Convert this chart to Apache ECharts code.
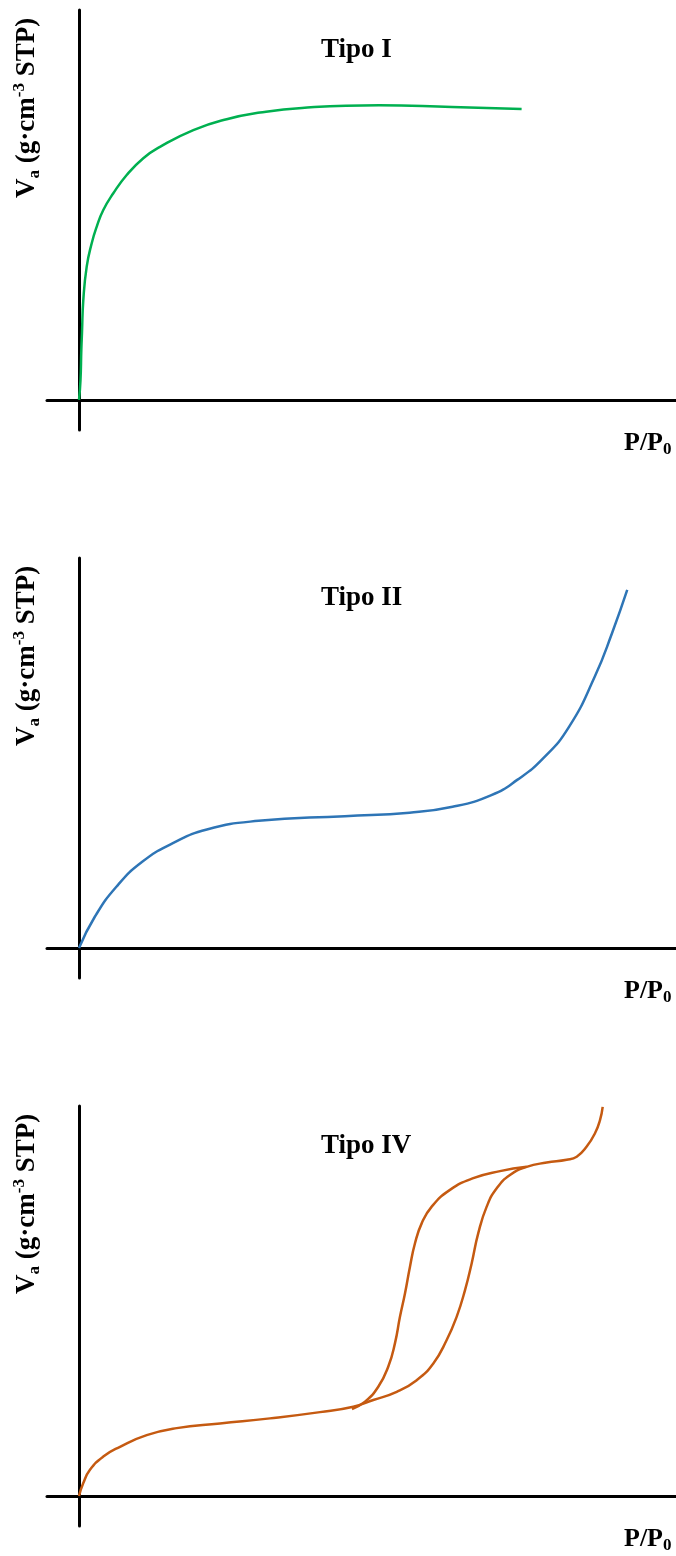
<!DOCTYPE html>
<html>
<head>
<meta charset="utf-8">
<script src="https://cdn.jsdelivr.net/npm/echarts@6/dist/echarts.min.js"></script>
<style>
html,body{margin:0;padding:0;background:#fff;}
#c{width:676px;height:1556px;}
</style>
</head>
<body>
<div id="c"></div>
<script>
// Panel titles
const panelTitles = ['Tipo I', 'Tipo II', 'Tipo IV'];

// Tipo I (green)
const pI_x = [0, 0.0025, 0.0039, 0.005, 0.0072, 0.0129, 0.0213, 0.0296, 0.0407, 0.0575, 0.0799, 0.1077, 0.1357, 0.1915, 0.2474, 0.3032, 0.3735, 0.5025, 0.6248, 0.7414];
const pI_y = [0, 5.1, 12.8, 17.2, 25.6, 34.2, 40.2, 44.4, 48.7, 53.0, 57.7, 62.0, 64.9, 69.2, 72.0, 73.7, 74.9, 75.6, 75.1, 74.6];

// Tipo II (blue)
const pII_x = [0, 0.0265, 0.0626, 0.1059, 0.1565, 0.2142, 0.3008, 0.4452, 0.5536, 0.6258, 0.6908, 0.7340, 0.7774, 0.8208, 0.8640, 0.8928, 0.9183];
const pII_y = [0, 8.0, 15.7, 22.1, 26.8, 30.4, 32.6, 33.8, 34.7, 36.2, 39.2, 43.1, 48.6, 56.7, 69.6, 80.7, 91.8];

// Tipo IV adsorption branch (orange)
const pIVads_x = [0, 0.0072, 0.0184, 0.0407, 0.0687, 0.1134, 0.1637, 0.2362, 0.3199, 0.4037, 0.4595, 0.4930, 0.5322, 0.5657, 0.5935, 0.6159, 0.6327, 0.6466, 0.6578, 0.6688, 0.6829, 0.6997, 0.7219, 0.7499, 0.7834, 0.8169, 0.8337, 0.8504, 0.8643, 0.8727, 0.8772];
const pIVads_y = [0, 3.3, 6.7, 10.1, 12.6, 15.6, 17.4, 18.6, 19.9, 21.5, 22.9, 24.6, 26.7, 29.7, 34.0, 40.0, 46.0, 52.8, 59.7, 67.4, 74.2, 78.9, 82.3, 84.4, 85.5, 86.2, 87.0, 89.6, 93.0, 96.4, 99.8];

// Tipo IV desorption branch (orange)
const pIVdes_x = [0.4573, 0.4791, 0.5013, 0.5181, 0.5293, 0.5377, 0.5461, 0.5544, 0.5628, 0.5740, 0.5908, 0.6214, 0.6605, 0.7052, 0.7499];
const pIVdes_y = [22.3, 24.2, 28.0, 33.2, 39.2, 46.0, 52.0, 58.8, 64.8, 69.9, 74.2, 78.5, 81.5, 83.3, 84.4];

const zip = (xs, ys) => xs.map((x, i) => [x, ys[i]]);

const FONT = '"Liberation Serif", "Times New Roman", serif';
const panelTops = [10, 558, 1106];
const GRID_H = 420;
const X_MIN = -0.0536, X_MAX = 1, Y_MIN = -7.7, Y_MAX = 100;

const grids = [], xAxes = [], yAxes = [], titles = [], graphics = [];
panelTops.forEach((top, i) => {
  grids.push({left: 47, width: 629, top: top, height: GRID_H});
  xAxes.push({
    type: 'value', gridIndex: i, min: X_MIN, max: X_MAX,
    axisLine: {show: true, onZero: true, lineStyle: {color: '#000', width: 3}},
    axisTick: {show: false}, axisLabel: {show: false}, splitLine: {show: false}
  });
  yAxes.push({
    type: 'value', gridIndex: i, min: Y_MIN, max: Y_MAX,
    axisLine: {show: true, onZero: true, lineStyle: {color: '#000', width: 3}},
    axisTick: {show: false}, axisLabel: {show: false}, splitLine: {show: false}
  });
  titles.push({
    text: panelTitles[i], left: 316, top: top + 22,
    textStyle: {fontFamily: FONT, fontWeight: 'bold', fontSize: 27, color: '#000'}
  });
  titles.push({
    text: '{b|P/P}{s|0}', left: 619, top: top + 413,
    textStyle: {
      rich: {
        b: {fontFamily: FONT, fontWeight: 'bold', fontSize: 26, color: '#000', lineHeight: 30},
        s: {fontFamily: FONT, fontWeight: 'bold', fontSize: 17, color: '#000', lineHeight: 30, verticalAlign: 'bottom', padding: [8, 0, 0, 0]}
      }
    }
  });
  graphics.push({
    type: 'text', x: 27, y: top + 188, rotation: Math.PI / 2,
    style: {
      text: '{b|V}{s|a}{b| (g·cm}{p|-3}{b| STP)}',
      textAlign: 'left', textVerticalAlign: 'middle',
      rich: {
        b: {fontFamily: FONT, fontWeight: 'bold', fontSize: 27, fill: '#000', lineHeight: 32},
        s: {fontFamily: FONT, fontWeight: 'bold', fontSize: 17, fill: '#000', lineHeight: 32, verticalAlign: 'bottom', padding: [8, 0, 0, 0]},
        p: {fontFamily: FONT, fontWeight: 'bold', fontSize: 17, fill: '#000', lineHeight: 32, verticalAlign: 'top', padding: [0, 0, 10, 0]}
      }
    }
  });
});

const lineSeries = (data, idx, color) => ({
  type: 'line', xAxisIndex: idx, yAxisIndex: idx, data: data,
  showSymbol: false, smooth: 0.5,
  lineStyle: {color: color, width: 2.5}, silent: true, animation: false
});

const chart = echarts.init(document.getElementById('c'), null, {renderer: 'canvas'});
chart.setOption({
  backgroundColor: '#fff',
  animation: false,
  title: titles,
  grid: grids,
  xAxis: xAxes,
  yAxis: yAxes,
  graphic: graphics,
  series: [
    lineSeries(zip(pI_x, pI_y), 0, '#00B050'),
    lineSeries(zip(pII_x, pII_y), 1, '#2E75B6'),
    lineSeries(zip(pIVads_x, pIVads_y), 2, '#C55A11'),
    lineSeries(zip(pIVdes_x, pIVdes_y), 2, '#C55A11')
  ]
});
</script>
</body>
</html>
